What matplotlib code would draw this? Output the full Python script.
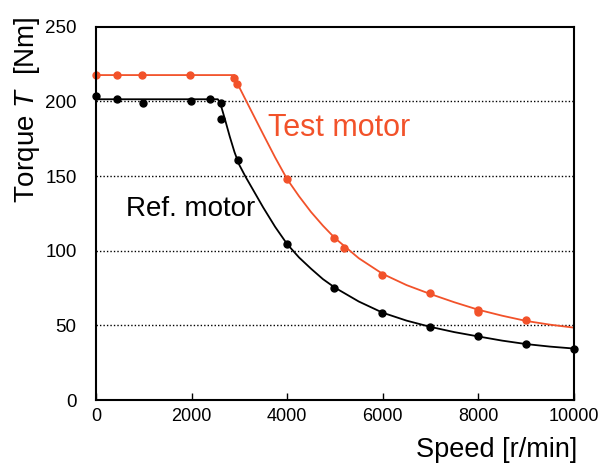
import matplotlib
matplotlib.use("Agg")
import matplotlib.pyplot as plt

plt.rcParams['font.family'] = ['Liberation Sans', 'DejaVu Sans']
plt.rcParams['mathtext.fontset'] = 'custom'
plt.rcParams['mathtext.it'] = 'Liberation Sans:italic'
plt.rcParams['mathtext.rm'] = 'Liberation Sans'

# measured points
test_x = [0, 450, 970, 1970, 2890, 2960, 3990, 4990, 5200, 5990, 7000, 8000, 8000, 9000]
test_y = [217.7, 217.7, 217.7, 217.7, 216, 211.5, 148, 108.3, 102, 84, 72, 60.3, 59, 53.4]
ref_x = [0, 450, 980, 1980, 2390, 2610, 2620, 2965, 4000, 4990, 5990, 6990, 8000, 9000, 10000]
ref_y = [203.8, 201.6, 199.1, 200.5, 201.8, 199.1, 188.2, 160.5, 104.3, 75, 58.5, 49.1, 42.6, 37.5, 34.4]

# fitted curves
test_line_x = [0, 2900, 2960, 3000, 3150, 3500, 3750, 4000, 4250, 4500, 4750, 5000,
               5500, 6000, 6500, 7000, 7500, 8000, 8500, 9000, 9500, 10000]
test_line_y = [217.7, 217.7, 212, 209.5, 200, 178, 162.5, 148, 136.5, 126, 116.8, 108.5,
               95, 84.5, 77, 71, 65.5, 60.5, 56.5, 53, 50.5, 48.5]
ref_line_x = [0, 2550, 2600, 2700, 2800, 2900, 3000, 3130, 3500, 3750, 4000, 4250, 4500,
              4750, 5000, 5500, 6000, 6500, 7000, 7500, 8000, 8500, 9000, 9500, 10000]
ref_line_y = [201.5, 201.5, 199, 188, 176.5, 166, 157.5, 149.6, 129, 116, 104.5, 95.5, 88,
              81, 75.3, 66, 58.5, 53.2, 49, 45.5, 42.6, 39.8, 37.5, 35.8, 34.5]

orange = '#F2522A'

fig = plt.figure(figsize=(5.98, 4.63), dpi=100)
ax = fig.add_axes([0.1605, 0.136, 0.799, 0.806])

ax.plot(test_line_x, test_line_y, color=orange, lw=1.3)
ax.plot(ref_line_x, ref_line_y, color='black', lw=1.3)
ax.plot(test_x, test_y, 'o', color=orange, ms=5, clip_on=False)
ax.plot(ref_x, ref_y, 'o', color='black', ms=5, clip_on=False)

for yv in [50, 100, 150, 200]:
    ax.axhline(yv, color='black', lw=1.0, ls=(0, (1, 1.5)), zorder=0)

ax.set_xlim(0, 10000)
ax.set_ylim(0, 250)
ax.set_xticks([0, 2000, 4000, 6000, 8000, 10000])
ax.set_yticks([0, 50, 100, 150, 200, 250])
ax.tick_params(axis='x', direction='in', length=5, width=1, pad=6, labelsize=13)
ax.tick_params(axis='y', length=0, pad=14, labelsize=13.5)
for s in ax.spines.values():
    s.set_linewidth(1.5)

ax.text(3600, 182, 'Test motor', color=orange, fontsize=22, ha='left', va='center')
ax.text(620, 128, 'Ref. motor', color='black', fontsize=20, ha='left', va='center')

fig.text(577 / 598, 1 - 450 / 463, 'Speed [r/min]', fontsize=19.5, ha='right', va='center')
fig.text(27 / 598, 1 - 110 / 463, 'Torque $\\it{T}$  [Nm]', fontsize=20, rotation=90,
         ha='center', va='center')

fig.savefig('out.png', dpi=100)
